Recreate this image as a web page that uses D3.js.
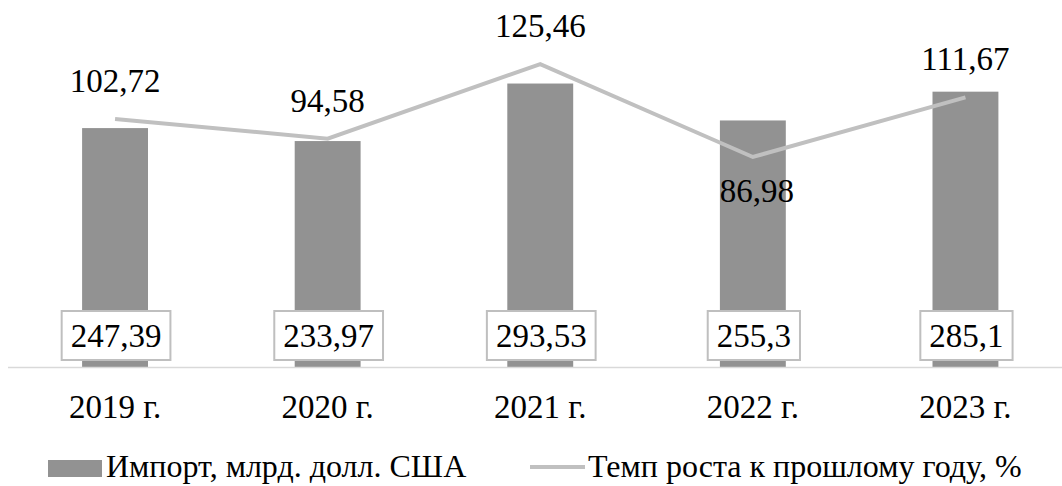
<!DOCTYPE html>
<html><head><meta charset="utf-8">
<script src="https://cdn.jsdelivr.net/npm/d3@7"></script>
</head>
<body style="margin:0;background:#fff">
<svg id="chart" width="1062" height="486" style="display:block"></svg>
<script>
const years = ["2019 г.", "2020 г.", "2021 г.", "2022 г.", "2023 г."];
const importValues = [247.39, 233.97, 293.53, 255.3, 285.1];
const growthValues = [102.72, 94.58, 125.46, 86.98, 111.67];
const importLabels = ["247,39", "233,97", "293,53", "255,3", "285,1"];
const growthLabels = ["102,72", "94,58", "125,46", "86,98", "111,67"];
const growthLabelBelow = [false, false, false, true, false];
const legendNames = ["Импорт, млрд. долл. США", "Темп роста к прошлому году, %"];

const svg = d3.select("#chart");
const barColor = "#929292", lineColor = "#c0c0c0";
const baseY = 367, topY = 29;
const font = (sel, size) => sel.style("font-family", "'Liberation Serif'").style("font-size", size + "px").attr("fill", "#000");

const x = d3.scaleBand().domain(years).range([8.75, 1071.75]).paddingInner(0.69).paddingOuter(0.345);
const y1 = d3.scaleLinear().domain([0, 350]).range([baseY, topY]);
const y2 = d3.scaleLinear().domain([0, 140]).range([baseY, topY]);
const cx = d => x(d) + x.bandwidth() / 2;

// bars
svg.append("g").selectAll("rect").data(years).join("rect")
  .attr("x", d => x(d)).attr("width", x.bandwidth())
  .attr("y", (d, i) => y1(importValues[i]))
  .attr("height", (d, i) => baseY - y1(importValues[i]))
  .attr("fill", barColor);

// category axis line
svg.append("line").attr("x1", 8).attr("x2", 1062).attr("y1", baseY + 0.5).attr("y2", baseY + 0.5)
  .attr("stroke", "#d9d9d9").attr("stroke-width", 1.5);

// year labels
svg.append("g").selectAll("text").data(years).join("text")
  .attr("x", d => cx(d)).attr("y", 418).style("text-anchor", "middle")
  .call(font, 33).text(d => d);

// growth line
const line = d3.line().x((d, i) => cx(years[i])).y(d => y2(d));
svg.append("path").datum(growthValues).attr("d", line)
  .attr("fill", "none").attr("stroke", lineColor).attr("stroke-width", 4).attr("stroke-linejoin", "miter");

// growth labels
svg.append("g").selectAll("text").data(growthValues).join("text")
  .attr("x", (d, i) => cx(years[i]) + (growthLabelBelow[i] ? 4 : 0))
  .attr("y", (d, i) => y2(d) + (growthLabelBelow[i] ? 45 : -27))
  .style("text-anchor", "middle").call(font, 33)
  .text((d, i) => growthLabels[i]);

// import value labels in boxes
years.forEach((yr, i) => {
  const g = svg.append("g");
  const rect = g.append("rect").attr("y", 311).attr("height", 49)
    .attr("fill", "#fff").attr("stroke", "#bfbfbf").attr("stroke-width", 2);
  const t = g.append("text").attr("x", cx(yr) + 1).attr("y", 347).style("text-anchor", "middle")
    .call(font, 33).text(importLabels[i]);
  const w = t.node().getComputedTextLength() + 18;
  rect.attr("x", cx(yr) + 1 - w / 2).attr("width", w);
});

// legend
const leg = svg.append("g");
leg.append("rect").attr("x", 48).attr("y", 460).attr("width", 54).attr("height", 17).attr("fill", barColor);
leg.append("text").attr("x", 106).attr("y", 477).call(font, 32).text(legendNames[0]);
leg.append("line").attr("x1", 530).attr("x2", 585).attr("y1", 467).attr("y2", 467)
  .attr("stroke", lineColor).attr("stroke-width", 4);
leg.append("text").attr("x", 588).attr("y", 477).call(font, 32).text(legendNames[1]);
</script>
</body></html>
